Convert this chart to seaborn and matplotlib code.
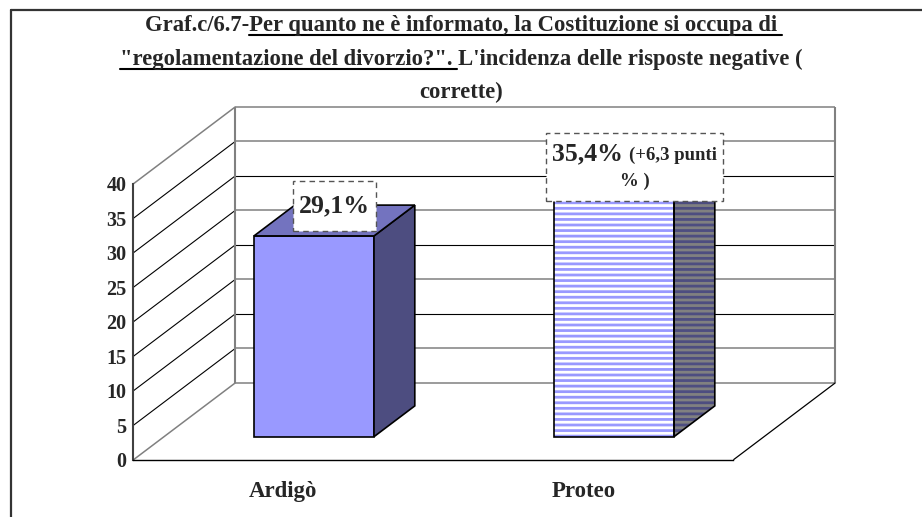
import matplotlib
matplotlib.use("Agg")
import matplotlib.pyplot as plt
from matplotlib.patches import Polygon, Rectangle
from matplotlib.lines import Line2D
from matplotlib.transforms import IdentityTransform
import seaborn as sns

# ---- data ----
CATEGORIES = ["Ardigò", "Proteo"]
VALUES = [29.1, 35.4]
VALUE_LABELS = ["29,1%", "35,4%"]
PROTEO_NOTE = ["(+6,3 punti", "% )"]
Y_TICKS = [0, 5, 10, 15, 20, 25, 30, 35, 40]
TITLE_LINES = [
    [("Graf.c/6.7-", False), ("Per quanto ne è informato, la Costituzione si occupa di", True)],
    [('"regolamentazione del divorzio?".', True), (" L'incidenza delle risposte negative (", False)],
    [("corrette)", False)],
]

sns.set_style("white")
plt.rcParams["font.family"] = ["Liberation Serif", "DejaVu Serif"]
plt.rcParams["font.weight"] = "bold"
plt.rcParams["hatch.linewidth"] = 2.0

W, H = 922, 517
fig = plt.figure(figsize=(W / 100, H / 100), dpi=100)
fig.patch.set_facecolor("white")

# ---- oblique 3D projection onto the plane of the bar fronts ----
X0, SX = 314.0, 300.0      # pixel of x=0, pixels per category unit
Y0, SY = 436.7, 6.9        # pixel row of value 0, pixels per value unit
DX = 102.0 / SX            # full depth offset (x units)
DY = 77.0 / SY             # full depth offset (value units)
D_FRONT, D_BACK = 0.3, 0.7
BAR_W = 0.4
X_LO, X_HI = -0.5, 1.5
V_TOP = 40


def proj(x, v, d):
    return x + (d - D_FRONT) * DX, v + (d - D_FRONT) * DY


xlim = (-1.0, 2.0)
ylim = (proj(0, 0, 0)[1], 50.0)
left_px, right_px = X0 + SX * xlim[0], X0 + SX * xlim[1]
top_px, bot_px = Y0 - SY * ylim[1], Y0 - SY * ylim[0]
ax = fig.add_axes([left_px / W, 1 - bot_px / H,
                   (right_px - left_px) / W, (bot_px - top_px) / H])
ax.set_facecolor("none")

FRONT = "#9999FF"
TOP = "#7373BF"
SIDE = "#4D4D80"

sns.barplot(x=CATEGORIES, y=VALUES, hue=CATEGORIES, palette=[FRONT, FRONT],
            width=BAR_W, saturation=1, edgecolor="black", linewidth=1.2,
            legend=False, ax=ax, zorder=3)
ax.set_xlim(*xlim)
ax.set_ylim(*ylim)
ax.set_xlabel("")
ax.set_ylabel("")

bars = sorted(ax.patches, key=lambda p: p.get_x())

# striped front of the second bar
pb = bars[1]
pb.set_facecolor("white")
pb.set_edgecolor(FRONT)
pb.set_hatch("---")
pb.set_linewidth(0)
ax.add_patch(Rectangle(pb.get_xy(), pb.get_width(), pb.get_height(),
                       fill=False, ec="black", lw=1.2, zorder=3.2))

# side and top faces
for i, (p, v) in enumerate(zip(bars, VALUES)):
    xl, xr = p.get_x(), p.get_x() + p.get_width()
    side = [proj(xr, 0, D_FRONT), proj(xr, 0, D_BACK), proj(xr, v, D_BACK), proj(xr, v, D_FRONT)]
    top = [proj(xl, v, D_FRONT), proj(xr, v, D_FRONT), proj(xr, v, D_BACK), proj(xl, v, D_BACK)]
    if i == 0:
        ax.add_patch(Polygon(side, closed=True, fc=SIDE, ec="black", lw=1.2, zorder=3))
        ax.add_patch(Polygon(top, closed=True, fc=TOP, ec="black", lw=1.2, zorder=3))
    else:
        ax.add_patch(Polygon(side, closed=True, fc="#808080", ec=SIDE, hatch="---", lw=0, zorder=3))
        ax.add_patch(Polygon(side, closed=True, fill=False, ec="black", lw=1.2, zorder=3.2))
        ax.add_patch(Polygon(top, closed=True, fc="white", ec=TOP, hatch="---", lw=0, zorder=3))
        ax.add_patch(Polygon(top, closed=True, fill=False, ec="black", lw=1.2, zorder=3.2))


def seg(p, q, **kw):
    ax.plot([p[0], q[0]], [p[1], q[1]], solid_capstyle="butt", clip_on=False, **kw)


GRID_DARK = dict(color="black", lw=0.8, zorder=1)
GRID_GRAY = dict(color="#808080", lw=1.1, zorder=1)
for v in Y_TICKS:
    back_style = GRID_DARK if (v % 10 == 0 and 0 < v < V_TOP) else GRID_GRAY
    seg(proj(X_LO, v, 1), proj(X_HI, v, 1), **back_style)
    side_style = GRID_DARK if 0 < v < V_TOP else GRID_GRAY
    seg(proj(X_LO, v, 0), proj(X_LO, v, 1), **side_style)
seg(proj(X_LO, 0, 1), proj(X_LO, V_TOP, 1), color="#808080", lw=1.5, zorder=1)
seg(proj(X_HI, 0, 1), proj(X_HI, V_TOP, 1), color="#808080", lw=1.5, zorder=1)
seg(proj(X_HI, 0, 0), proj(X_HI, 0, 1), color="black", lw=0.9, zorder=1)

# axes: front value axis and floor edge
ax.spines["top"].set_visible(False)
ax.spines["right"].set_visible(False)
ax.spines["left"].set_position(("data", proj(X_LO, 0, 0)[0]))
ax.spines["left"].set_bounds(proj(0, 0, 0)[1], proj(0, V_TOP, 0)[1])
ax.spines["left"].set_color("#404040")
ax.spines["left"].set_linewidth(1.5)
ax.spines["bottom"].set_bounds(proj(X_LO, 0, 0)[0], proj(X_HI, 0, 0)[0])
ax.spines["bottom"].set_color("black")
ax.spines["bottom"].set_linewidth(1.0)

ax.set_yticks([proj(0, v, 0)[1] for v in Y_TICKS], labels=[str(v) for v in Y_TICKS])
ax.tick_params(axis="y", direction="out", length=3, width=1.2, color="#404040",
               labelsize=14.5, pad=2)
ax.set_xticks([proj(i, 0, 0)[0] for i in range(len(CATEGORIES))], labels=CATEGORIES)
ax.set_xticks([proj(x, 0, 0)[0] for x in (X_LO, 0.5, X_HI)], minor=True)
ax.tick_params(axis="x", which="major", length=0, pad=15, labelsize=16.5)
ax.tick_params(axis="x", which="minor", direction="out", length=3, width=1, color="black")

# ---- value labels in dashed boxes ----
BOX_W = [0.277, 0.59]
BOX_BOTTOM = [0.7, -1.24]
BOX_H = [7.25, 9.85]
boxes = []
for i, v in enumerate(VALUES):
    cx = proj(i, v, 0.5)[0]
    b = v + BOX_BOTTOM[i]
    ax.add_patch(Rectangle((cx - BOX_W[i] / 2, b), BOX_W[i], BOX_H[i], fc="white",
                           ec="#555555", lw=1.0, ls=(0, (4, 3)), zorder=5))
    boxes.append((cx, b, BOX_H[i]))

cx, b, h = boxes[0]
ax.text(cx, b + h / 2, VALUE_LABELS[0], ha="center", va="center", fontsize=18.5, zorder=6)

cx, b, h = boxes[1]
v = VALUES[1]
t1 = ax.text(0, v + 4.7, VALUE_LABELS[1], ha="left", va="baseline", fontsize=18.5, zorder=6)
t2 = ax.text(0, v + 4.7, PROTEO_NOTE[0], ha="left", va="baseline", fontsize=13.5, zorder=6)
ax.text(cx, v + 1.56, PROTEO_NOTE[1], ha="center", va="center", fontsize=13.5, zorder=6)

fig.canvas.draw()
renderer = fig.canvas.get_renderer()
w1 = t1.get_window_extent(renderer).width
w2 = t2.get_window_extent(renderer).width
gap = 7.0
start = cx - (w1 + gap + w2) / 2 / SX
t1.set_x(start)
t2.set_x(start + (w1 + gap) / SX)

# ---- title with underlined parts ----
TITLE_SIZE = 16.3
TITLE_CX = 461
TITLE_BASE = [31, 65, 98]


def text_width(s):
    t = fig.text(0, 0, s, fontsize=TITLE_SIZE, fontweight="bold")
    w = t.get_window_extent(renderer).width
    t.remove()
    return w


for pieces, base in zip(TITLE_LINES, TITLE_BASE):
    full = "".join(s for s, _ in pieces)
    total = text_width(full)
    x_left = TITLE_CX - total / 2
    y = H - base
    fig.text(x_left, y, full, fontsize=TITLE_SIZE, fontweight="bold",
             ha="left", va="baseline", transform=IdentityTransform())
    prefix = ""
    for s, under in pieces:
        start_w = text_width(prefix) if prefix else 0.0
        prefix += s
        end_w = text_width(prefix.rstrip())
        if under:
            lead = len(s) - len(s.lstrip())
            if lead:
                start_w = text_width(prefix[: len(prefix) - len(s) + lead].rstrip()) + 4
            fig.add_artist(Line2D([x_left + start_w, x_left + end_w + 5], [y - 4, y - 4],
                                  transform=IdentityTransform(), color="black", lw=1.5))

# outer frame
fig.add_artist(Line2D([11, W], [H - 10, H - 10], transform=IdentityTransform(),
                      color="#333333", lw=1.6))
fig.add_artist(Line2D([11, 11], [0, H - 10], transform=IdentityTransform(),
                      color="#333333", lw=1.6))

fig.savefig("out.png", dpi=100)
